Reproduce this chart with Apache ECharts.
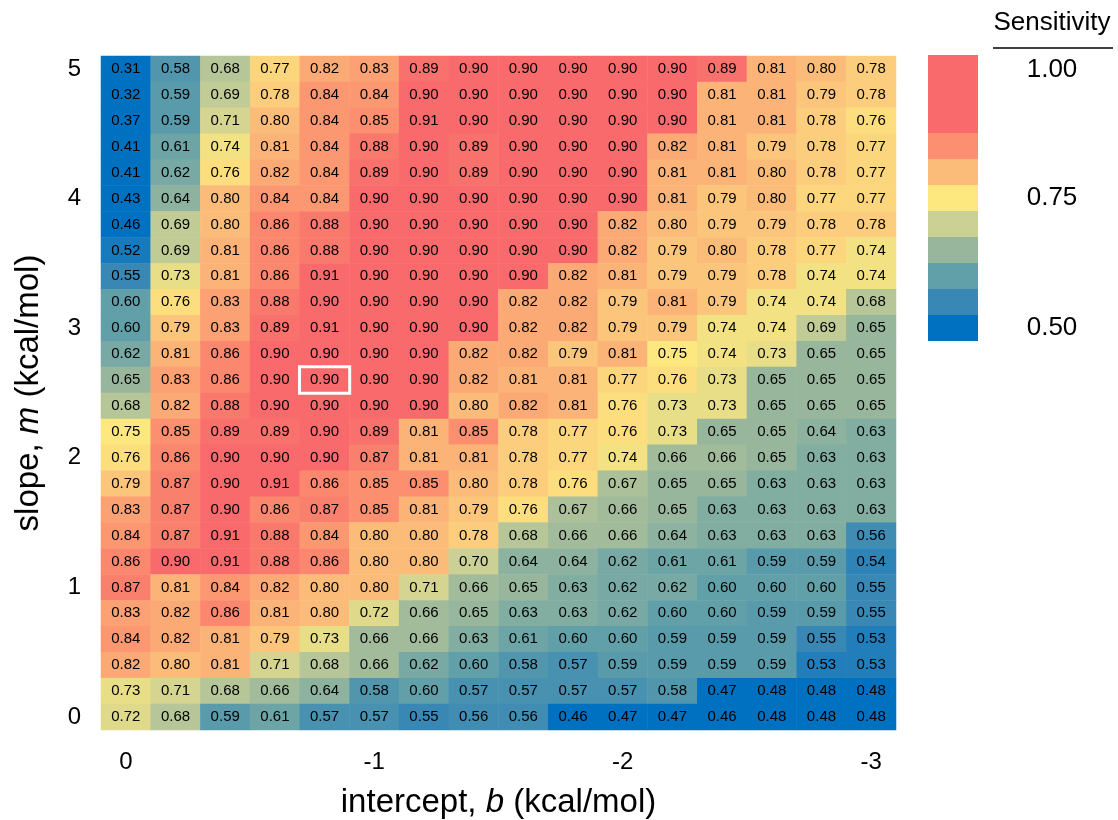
<!DOCTYPE html>
<html>
<head>
<meta charset="utf-8">
<script src="https://cdn.jsdelivr.net/npm/echarts@6/dist/echarts.min.js"></script>
<style>
  html, body { margin: 0; padding: 0; background: #fff; }
  #chart { width: 1118px; height: 820px; }
</style>
</head>
<body>
<div id="chart"></div>
<script>
// intercept b (x, left -> right) and slope m (y, bottom -> top)
const interceptLabels = ['0', '-0.2', '-0.4', '-0.6', '-0.8', '-1', '-1.2', '-1.4', '-1.6', '-1.8', '-2', '-2.2', '-2.4', '-2.6', '-2.8', '-3'];
const slopeLabels = ['0', '0.2', '0.4', '0.6', '0.8', '1', '1.2', '1.4', '1.6', '1.8', '2', '2.2', '2.4', '2.6', '2.8', '3', '3.2', '3.4', '3.6', '3.8', '4', '4.2', '4.4', '4.6', '4.8', '5'];

// sensitivity, rows as printed: top row is m = 5, bottom row is m = 0
const sensitivityRows = [
  [0.31, 0.58, 0.68, 0.77, 0.82, 0.83, 0.89, 0.90, 0.90, 0.90, 0.90, 0.90, 0.89, 0.81, 0.80, 0.78],
  [0.32, 0.59, 0.69, 0.78, 0.84, 0.84, 0.90, 0.90, 0.90, 0.90, 0.90, 0.90, 0.81, 0.81, 0.79, 0.78],
  [0.37, 0.59, 0.71, 0.80, 0.84, 0.85, 0.91, 0.90, 0.90, 0.90, 0.90, 0.90, 0.81, 0.81, 0.78, 0.76],
  [0.41, 0.61, 0.74, 0.81, 0.84, 0.88, 0.90, 0.89, 0.90, 0.90, 0.90, 0.82, 0.81, 0.79, 0.78, 0.77],
  [0.41, 0.62, 0.76, 0.82, 0.84, 0.89, 0.90, 0.89, 0.90, 0.90, 0.90, 0.81, 0.81, 0.80, 0.78, 0.77],
  [0.43, 0.64, 0.80, 0.84, 0.84, 0.90, 0.90, 0.90, 0.90, 0.90, 0.90, 0.81, 0.79, 0.80, 0.77, 0.77],
  [0.46, 0.69, 0.80, 0.86, 0.88, 0.90, 0.90, 0.90, 0.90, 0.90, 0.82, 0.80, 0.79, 0.79, 0.78, 0.78],
  [0.52, 0.69, 0.81, 0.86, 0.88, 0.90, 0.90, 0.90, 0.90, 0.90, 0.82, 0.79, 0.80, 0.78, 0.77, 0.74],
  [0.55, 0.73, 0.81, 0.86, 0.91, 0.90, 0.90, 0.90, 0.90, 0.82, 0.81, 0.79, 0.79, 0.78, 0.74, 0.74],
  [0.60, 0.76, 0.83, 0.88, 0.90, 0.90, 0.90, 0.90, 0.82, 0.82, 0.79, 0.81, 0.79, 0.74, 0.74, 0.68],
  [0.60, 0.79, 0.83, 0.89, 0.91, 0.90, 0.90, 0.90, 0.82, 0.82, 0.79, 0.79, 0.74, 0.74, 0.69, 0.65],
  [0.62, 0.81, 0.86, 0.90, 0.90, 0.90, 0.90, 0.82, 0.82, 0.79, 0.81, 0.75, 0.74, 0.73, 0.65, 0.65],
  [0.65, 0.83, 0.86, 0.90, 0.90, 0.90, 0.90, 0.82, 0.81, 0.81, 0.77, 0.76, 0.73, 0.65, 0.65, 0.65],
  [0.68, 0.82, 0.88, 0.90, 0.90, 0.90, 0.90, 0.80, 0.82, 0.81, 0.76, 0.73, 0.73, 0.65, 0.65, 0.65],
  [0.75, 0.85, 0.89, 0.89, 0.90, 0.89, 0.81, 0.85, 0.78, 0.77, 0.76, 0.73, 0.65, 0.65, 0.64, 0.63],
  [0.76, 0.86, 0.90, 0.90, 0.90, 0.87, 0.81, 0.81, 0.78, 0.77, 0.74, 0.66, 0.66, 0.65, 0.63, 0.63],
  [0.79, 0.87, 0.90, 0.91, 0.86, 0.85, 0.85, 0.80, 0.78, 0.76, 0.67, 0.65, 0.65, 0.63, 0.63, 0.63],
  [0.83, 0.87, 0.90, 0.86, 0.87, 0.85, 0.81, 0.79, 0.76, 0.67, 0.66, 0.65, 0.63, 0.63, 0.63, 0.63],
  [0.84, 0.87, 0.91, 0.88, 0.84, 0.80, 0.80, 0.78, 0.68, 0.66, 0.66, 0.64, 0.63, 0.63, 0.63, 0.56],
  [0.86, 0.90, 0.91, 0.88, 0.86, 0.80, 0.80, 0.70, 0.64, 0.64, 0.62, 0.61, 0.61, 0.59, 0.59, 0.54],
  [0.87, 0.81, 0.84, 0.82, 0.80, 0.80, 0.71, 0.66, 0.65, 0.63, 0.62, 0.62, 0.60, 0.60, 0.60, 0.55],
  [0.83, 0.82, 0.86, 0.81, 0.80, 0.72, 0.66, 0.65, 0.63, 0.63, 0.62, 0.60, 0.60, 0.59, 0.59, 0.55],
  [0.84, 0.82, 0.81, 0.79, 0.73, 0.66, 0.66, 0.63, 0.61, 0.60, 0.60, 0.59, 0.59, 0.59, 0.55, 0.53],
  [0.82, 0.80, 0.81, 0.71, 0.68, 0.66, 0.62, 0.60, 0.58, 0.57, 0.59, 0.59, 0.59, 0.59, 0.53, 0.53],
  [0.73, 0.71, 0.68, 0.66, 0.64, 0.58, 0.60, 0.57, 0.57, 0.57, 0.57, 0.58, 0.47, 0.48, 0.48, 0.48],
  [0.72, 0.68, 0.59, 0.61, 0.57, 0.57, 0.55, 0.56, 0.56, 0.46, 0.47, 0.47, 0.46, 0.48, 0.48, 0.48]
];

// the boxed cell
const highlightIntercept = '-0.8';
const highlightSlope = '2.6';

// colour bar: 0.05 wide bins, low -> high
const legendEdges = [0.475, 0.525, 0.575, 0.625, 0.675, 0.725, 0.775, 0.825, 0.875, 0.925, 0.975, 1.025];
const legendColors = ['#0071c1', '#3987b5', '#62a0a9', '#98b69c', '#cbd095', '#fde77f', '#fbbc7a', '#fb8f6f', '#f96a6c', '#f96a6c', '#f96a6c'];
const legendTicks = ['1.00', '0.75', '0.50'];
// cell colours, 0.50 -> 0.90
const cellColors = ['#0071c1', '#3987b5', '#62a0a9', '#98b69c', '#cbd095', '#fde77f', '#fbbc7a', '#fb8f6f', '#f96a6c'];

const FONT = '"Liberation Sans", Arial, sans-serif';

const cells = [];
sensitivityRows.forEach(function (row, r) {
    const yi = slopeLabels.length - 1 - r;
    row.forEach(function (v, c) {
        cells.push([c, yi, v]);
    });
});

const hx = interceptLabels.indexOf(highlightIntercept);
const hy = slopeLabels.indexOf(highlightSlope);
const highlight = [[hx, hy, sensitivityRows[slopeLabels.length - 1 - hy][hx]]];

const pieces = legendColors.map(function (color, i) {
    return {gte: legendEdges[i], lt: legendEdges[i + 1], color: color};
});

const titleStyle = {
    fontSize: 33, color: '#000', fontFamily: FONT,
    rich: {i: {fontSize: 33, fontStyle: 'italic', color: '#000', fontFamily: FONT}}
};

const chart = echarts.init(document.getElementById('chart'));

chart.setOption({
    animation: false,
    textStyle: {fontFamily: FONT},
    grid: {left: 101, top: 56, width: 795, height: 674, outerBoundsMode: 'none', containLabel: false},
    xAxis: {
        type: 'category',
        data: interceptLabels,
        name: 'intercept, {i|b} (kcal/mol)',
        nameLocation: 'middle',
        nameGap: 56,
        nameTextStyle: titleStyle,
        axisLine: {show: false},
        axisTick: {show: false},
        splitLine: {show: false},
        axisLabel: {
            interval: 4,
            margin: 20,
            fontSize: 24,
            color: '#000',
            formatter: function (v) { return String(Number(v)); }
        }
    },
    yAxis: {
        type: 'category',
        data: slopeLabels,
        name: 'slope, {i|m} (kcal/mol)',
        nameLocation: 'middle',
        nameGap: 56,
        nameTextStyle: titleStyle,
        axisLine: {show: false},
        axisTick: {show: false},
        splitLine: {show: false},
        axisLabel: {
            interval: 4,
            margin: 20,
            fontSize: 24,
            color: '#000',
            formatter: function (v) { return String(Number(v)); }
        }
    },
    visualMap: [
        {
            type: 'continuous',
            show: false,
            seriesIndex: 0,
            dimension: 2,
            min: 0.5,
            max: 0.9,
            inRange: {color: cellColors}
        },
        {
            type: 'piecewise',
            seriesIndex: 2,
            orient: 'vertical',
            left: 928,
            top: 55,
            padding: 0,
            itemWidth: 50,
            itemHeight: 26,
            itemGap: 0,
            itemSymbol: 'rect',
            showLabel: false,
            hoverLink: false,
            selectedMode: false,
            pieces: pieces
        }
    ],
    graphic: [
        {type: 'text', x: 1052, y: 23, style: {text: 'Sensitivity', fontSize: 26, fontFamily: FONT, fill: '#000', align: 'center', verticalAlign: 'middle'}},
        {type: 'line', shape: {x1: 993, y1: 48, x2: 1113, y2: 48}, style: {stroke: '#000', lineWidth: 1.5}},
        {type: 'text', x: 1052, y: 70, style: {text: legendTicks[0], fontSize: 26, fontFamily: FONT, fill: '#000', align: 'center', verticalAlign: 'middle'}},
        {type: 'text', x: 1052, y: 198, style: {text: legendTicks[1], fontSize: 26, fontFamily: FONT, fill: '#000', align: 'center', verticalAlign: 'middle'}},
        {type: 'text', x: 1052, y: 328, style: {text: legendTicks[2], fontSize: 26, fontFamily: FONT, fill: '#000', align: 'center', verticalAlign: 'middle'}}
    ],
    series: [
        {
            type: 'heatmap',
            data: cells,
            label: {
                show: true,
                color: '#000',
                fontSize: 15,
                fontFamily: FONT,
                formatter: function (p) { return p.value[2].toFixed(2); }
            },
            itemStyle: {borderWidth: 0},
            emphasis: {disabled: true}
        },
        {
            type: 'heatmap',
            data: highlight,
            silent: true,
            z: 5,
            itemStyle: {color: 'rgba(0,0,0,0)', borderColor: '#fff', borderWidth: 3},
            label: {show: false}
        },
        {
            type: 'heatmap',
            data: []
        }
    ]
});
</script>
</body>
</html>
